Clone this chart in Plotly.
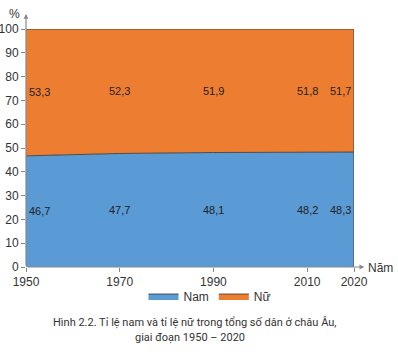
import plotly.graph_objects as go

years = [1950, 1970, 1990, 2010, 2020]
nam = [46.7, 47.7, 48.1, 48.2, 48.3]
nu = [53.3, 52.3, 51.9, 51.8, 51.7]
nam_labels = ["46,7", "47,7", "48,1", "48,2", "48,3"]
nu_labels = ["53,3", "52,3", "51,9", "51,8", "51,7"]
y_ticks = [0, 10, 20, 30, 40, 50, 60, 70, 80, 90, 100]

BLUE = "#5b9bd5"
ORANGE = "#ed7d31"
FONT = "Liberation Sans, Arial, sans-serif"

fig = go.Figure()
fig.add_trace(go.Scatter(x=years, y=nam, name="Nam", stackgroup="one",
                         mode="lines", line=dict(color="#333333", width=0.8),
                         fillcolor=BLUE))
fig.add_trace(go.Scatter(x=years, y=nu, name="Nữ", stackgroup="one",
                         mode="lines", line=dict(color="#333333", width=0.8),
                         fillcolor=ORANGE))

# right edge line
fig.add_shape(type="line", x0=2020, x1=2020, y0=0, y1=100, xref="x", yref="y",
              line=dict(color="#444444", width=1))

# data labels
for i, yr in enumerate(years):
    if i == 0:
        anchor, shift = "left", 1
    elif i == len(years) - 1:
        anchor, shift = "right", -1
    else:
        anchor, shift = "center", 0
    fig.add_annotation(x=yr, y=nam[i] / 2, text=nam_labels[i], showarrow=False,
                       xanchor=anchor, xshift=shift,
                       font=dict(size=11, color="#222222", family=FONT))
    fig.add_annotation(x=yr, y=nam[i] + nu[i] / 2, text=nu_labels[i], showarrow=False,
                       xanchor=anchor, xshift=shift,
                       font=dict(size=11, color="#222222", family=FONT))

# axis arrows
fig.add_annotation(x=1950, y=106.3, ax=1950, ay=0, xref="x", yref="y", axref="x", ayref="y",
                   showarrow=True, arrowhead=2, arrowsize=0.8, arrowwidth=1.2,
                   arrowcolor="#888888", text="")
fig.add_annotation(x=2022.2, y=0, ax=1950, ay=0, xref="x", yref="y", axref="x", ayref="y",
                   showarrow=True, arrowhead=2, arrowsize=0.8, arrowwidth=1.2,
                   arrowcolor="#888888", text="")
fig.add_annotation(x=0, y=(267 - 14) / 238, xref="paper", yref="paper", text="%",
                   showarrow=False, xanchor="right", yanchor="middle", xshift=-4,
                   font=dict(size=12, color="#333333", family=FONT))
fig.add_annotation(x=(2022.6 - 1950) / 70, y=0, xref="paper", yref="paper", text="Năm",
                   showarrow=False, xanchor="left", yanchor="middle", yshift=-1,
                   font=dict(size=12, color="#333333", family=FONT))

# caption
fig.add_annotation(xref="paper", yref="paper", x=(195 - 26) / 328, y=-(322 - 267) / 238,
                   text="Hình 2.2. Tỉ lệ nam và tỉ lệ nữ trong tổng số dân ở châu Âu,",
                   showarrow=False, xanchor="center", yanchor="middle",
                   font=dict(size=11, color="#333333", family="Roboto, sans-serif"))
fig.add_annotation(xref="paper", yref="paper", x=(190 - 26) / 328, y=-(337 - 267) / 238,
                   text="giai đoạn 1950 – 2020",
                   showarrow=False, xanchor="center", yanchor="middle",
                   font=dict(size=11, color="#333333", family="Roboto, sans-serif"))

fig.update_layout(
    width=398, height=352,
    margin=dict(l=26, r=44, t=29, b=85, autoexpand=False),
    paper_bgcolor="white", plot_bgcolor="white",
    font=dict(family=FONT, color="#333333", size=12),
    showlegend=True,
    legend=dict(orientation="h", x=(210 - 26) / 328, xanchor="center",
                y=-(296 - 267) / 238, yanchor="middle", traceorder="normal",
                font=dict(size=12, color="#333333", family=FONT),
                bgcolor="rgba(0,0,0,0)"),
    xaxis=dict(range=[1950, 2020], tickvals=years, showgrid=False, zeroline=False,
               showline=False, ticks="outside", ticklen=4, tickcolor="#888888",
               tickfont=dict(size=12, color="#333333"), fixedrange=True, automargin=False),
    yaxis=dict(range=[0, 100], tickvals=y_ticks, showgrid=False, zeroline=False,
               showline=False, ticks="outside", ticklen=4, tickcolor="#888888",
               tickfont=dict(size=12, color="#333333"), fixedrange=True, automargin=False),
)

fig.write_html("out.html")
